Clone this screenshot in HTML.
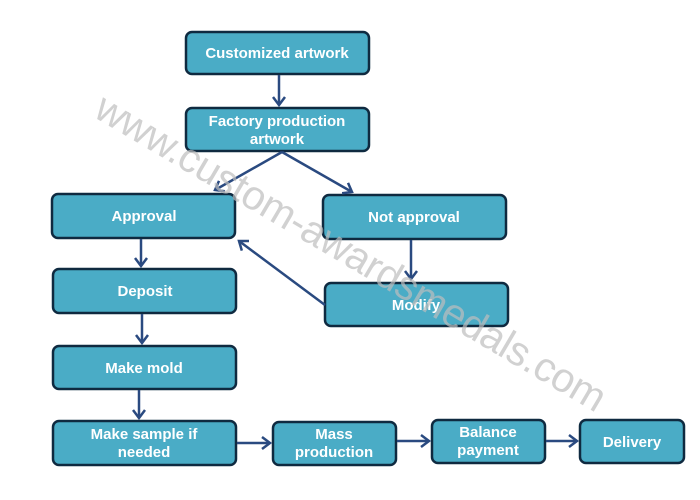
<!DOCTYPE html>
<html><head><style>body{margin:0;background:#fff}svg{display:block}</style></head><body>
<svg width="700" height="500" viewBox="0 0 700 500" xmlns="http://www.w3.org/2000/svg">
<defs><marker id="a" markerWidth="12" markerHeight="14" refX="9" refY="7" orient="auto" markerUnits="userSpaceOnUse"><path d="M1,1 L9,7 L1,13" fill="none" stroke="#2a4a80" stroke-width="2.5"/></marker></defs>
<g fill="#4aacc6" stroke="#0f2a40" stroke-width="2.5">
<rect x="186" y="32" width="183" height="42" rx="6"/>
<rect x="186" y="108" width="183" height="43" rx="6"/>
<rect x="52" y="194" width="183" height="44" rx="6"/>
<rect x="323" y="195" width="183" height="44" rx="6"/>
<rect x="53" y="269" width="183" height="44" rx="6"/>
<rect x="325" y="283" width="183" height="43" rx="6"/>
<rect x="53" y="346" width="183" height="43" rx="6"/>
<rect x="53" y="421" width="183" height="44" rx="6"/>
<rect x="273" y="422" width="123" height="43" rx="6"/>
<rect x="432" y="420" width="113" height="43" rx="6"/>
<rect x="580" y="420" width="104" height="43" rx="6"/>
</g>
<g stroke="#2a4a80" stroke-width="2.5" fill="none" marker-end="url(#a)">
<line x1="279" y1="75" x2="279" y2="105"/>
<line x1="282" y1="152" x2="215" y2="190"/>
<line x1="282" y1="152" x2="352" y2="192"/>
<line x1="141" y1="239" x2="141" y2="266"/>
<line x1="411" y1="240" x2="411" y2="279"/>
<line x1="325" y1="305" x2="239" y2="241"/>
<line x1="142" y1="314" x2="142" y2="343"/>
<line x1="139" y1="390" x2="139" y2="418"/>
<line x1="237" y1="443" x2="270" y2="443"/>
<line x1="397" y1="441" x2="429" y2="441"/>
<line x1="546" y1="441" x2="577" y2="441"/>
</g>
<g font-family="Liberation Sans, sans-serif" font-weight="bold" font-size="15" fill="#fff" text-anchor="middle">
<text x="277" y="58">Customized artwork</text>
<text x="277" y="126">Factory production</text>
<text x="277" y="144">artwork</text>
<text x="144" y="221">Approval</text>
<text x="414" y="222">Not  approval</text>
<text x="145" y="296">Deposit</text>
<text x="416" y="310">Modify</text>
<text x="144" y="373">Make mold</text>
<text x="144" y="439">Make sample if</text>
<text x="144" y="457">needed</text>
<text x="334" y="439">Mass</text>
<text x="334" y="457">production</text>
<text x="488" y="437">Balance</text>
<text x="488" y="455">payment</text>
<text x="632" y="447">Delivery</text>
</g>
<text x="0" y="0" transform="translate(92,116) rotate(30.5)" font-family="Liberation Sans, sans-serif" font-size="41" fill="#bdbdbd" fill-opacity="0.7" textLength="585">www.custom-awardsmedals.com</text>
</svg>
</body></html>
